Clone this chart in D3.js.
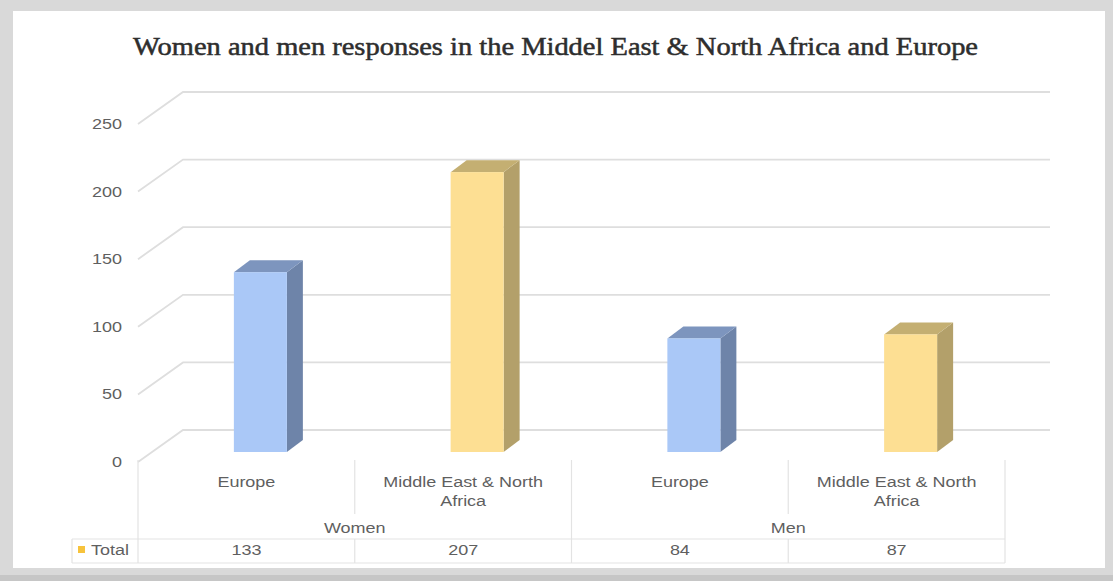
<!DOCTYPE html>
<html><head><meta charset="utf-8">
<script src="https://cdn.jsdelivr.net/npm/d3@7"></script>
<style>html,body{margin:0;padding:0;background:#d9d9d9;} svg{display:block}</style>
</head><body><svg id="c" width="1113" height="581"></svg>
<script>
// ---- data ----
const title = "Women and men responses in the Middel East & North Africa and Europe";
const categories = ["Europe", "Middle East & North Africa", "Europe", "Middle East & North Africa"];
const categoryLines = [["Europe"], ["Middle East & North", "Africa"], ["Europe"], ["Middle East & North", "Africa"]];
const groups = ["Women", "Men"];
const groupOf = [0, 0, 1, 1];
const seriesName = "Total";
const totals = [133, 207, 84, 87];
const yTicks = [0, 50, 100, 150, 200, 250];

// ---- styles ----
const faceColors = {
  "Europe": {front: "#aac8f7", side: "#6e84a9", top: "#7d95be"},
  "Middle East & North Africa": {front: "#fddf93", side: "#b3a06a", top: "#c4af72"}
};
const textColor = "#5f5f5f";
const gridColor = "#dedede";
const stretch = 1.2;

const svg = d3.select("#c");
// frame
svg.append("rect").attr("x", 0).attr("y", 0).attr("width", 1113).attr("height", 581).attr("fill", "#d9d9d9");
svg.append("rect").attr("x", 0).attr("y", 575).attr("width", 1113).attr("height", 6).attr("fill", "#c6c6c6");
svg.append("rect").attr("x", 13).attr("y", 11).attr("width", 1092).attr("height", 557).attr("fill", "#ffffff");

// title
svg.append("text").attr("x", 133).attr("y", 55)
  .attr("textLength", 845).attr("lengthAdjust", "spacingAndGlyphs")
  .style("font-family", "'Liberation Serif', 'DejaVu Serif', serif")
  .style("font-size", "25px").attr("fill", "#2e2e2e")
  .attr("stroke", "#2e2e2e").attr("stroke-width", 0.5)
  .text(title);

// scales
const x = d3.scaleBand().domain(d3.range(categories.length)).range([138, 1005]).padding(0);
const y = d3.scaleLinear().domain([0, 250]).range([452, 114]);
const front = {dx: -14, dy: 10};   // from bar plane to front plane
const back = {dx: 31, dy: -22};    // from bar plane to back wall
const xLeftBar = x.range()[0] - front.dx; // bar-plane x of left wall
const xRightBar = x.range()[1] - front.dx;

function stxt(sel, px, py, str, anchor) {
  return sel.append("text")
    .attr("transform", `translate(${px},${py}) scale(${stretch},1)`)
    .attr("text-anchor", anchor || "middle")
    .attr("dominant-baseline", "central")
    .style("font-family", "'Liberation Sans', Arial, sans-serif")
    .style("font-size", "15px").attr("fill", textColor)
    .text(str);
}

// gridlines (side wall diagonals + back wall)
const grid = svg.append("g").attr("fill", "none").attr("stroke", gridColor).attr("stroke-width", 1.8);
yTicks.forEach(v => {
  const yf = y(v) + front.dy, yb = y(v) + back.dy;
  grid.append("path").attr("d",
    `M${xLeftBar + front.dx},${yf} L${xLeftBar + back.dx},${yb} L${xRightBar + back.dx},${yb}`);
});

// y labels
yTicks.forEach(v => stxt(svg, 122, y(v) + front.dy, String(v), "end"));

// bars
const bw = 53, depthX = 16, depthY = 12;
const bars = svg.append("g");
totals.forEach((v, i) => {
  const c = faceColors[categories[i]];
  const x0 = x(i) + x.bandwidth() / 2 - front.dx - bw / 2;
  const x1 = x0 + bw, yt = y(v), yb = y(0);
  bars.append("path").attr("fill", c.side)
    .attr("d", `M${x1},${yt} L${x1 + depthX},${yt - depthY} L${x1 + depthX},${yb - depthY} L${x1},${yb} Z`);
  bars.append("path").attr("fill", c.top)
    .attr("d", `M${x0},${yt} L${x0 + depthX},${yt - depthY} L${x1 + depthX},${yt - depthY} L${x1},${yt} Z`);
  bars.append("rect").attr("x", x0).attr("y", yt).attr("width", bw).attr("height", yb - yt).attr("fill", c.front);
});

// data table
const tbl = svg.append("g").attr("stroke", "#e3e3e3").attr("stroke-width", 1.2).attr("fill", "none");
const tTop = 460, rowSep = 539, tBot = 563, legLeft = 72;
const [xa, xb] = x.range();
tbl.append("line").attr("x1", legLeft).attr("x2", xb).attr("y1", rowSep).attr("y2", rowSep);
tbl.append("line").attr("x1", legLeft).attr("x2", xb).attr("y1", tBot).attr("y2", tBot);
tbl.append("line").attr("x1", legLeft).attr("x2", legLeft).attr("y1", rowSep).attr("y2", tBot);
categories.forEach((c, i) => {
  const xl = x(i);
  if (i === 0 || groupOf[i] !== groupOf[i - 1]) {
    tbl.append("line").attr("x1", xl).attr("x2", xl).attr("y1", tTop).attr("y2", tBot);
  } else {
    tbl.append("line").attr("x1", xl).attr("x2", xl).attr("y1", tTop).attr("y2", 514);
    tbl.append("line").attr("x1", xl).attr("x2", xl).attr("y1", rowSep).attr("y2", tBot);
  }
});
tbl.append("line").attr("x1", xb).attr("x2", xb).attr("y1", tTop).attr("y2", tBot);

// category labels
categoryLines.forEach((lines, i) => {
  lines.forEach((ln, k) => stxt(svg, x(i) + x.bandwidth() / 2, 482 + k * 19, ln));
});
// group labels
groups.forEach((g, gi) => {
  const idx = groupOf.map((v, i) => v === gi ? i : -1).filter(i => i >= 0);
  const cx = (x(idx[0]) + x(idx[idx.length - 1]) + x.bandwidth()) / 2;
  stxt(svg, cx, 528, g);
});
// total row
svg.append("rect").attr("x", 78).attr("y", 546).attr("width", 7).attr("height", 7).attr("fill", "#f7c33c");
stxt(svg, 91, 550, seriesName, "start");
totals.forEach((v, i) => stxt(svg, x(i) + x.bandwidth() / 2, 550, String(v)));
</script></body></html>
